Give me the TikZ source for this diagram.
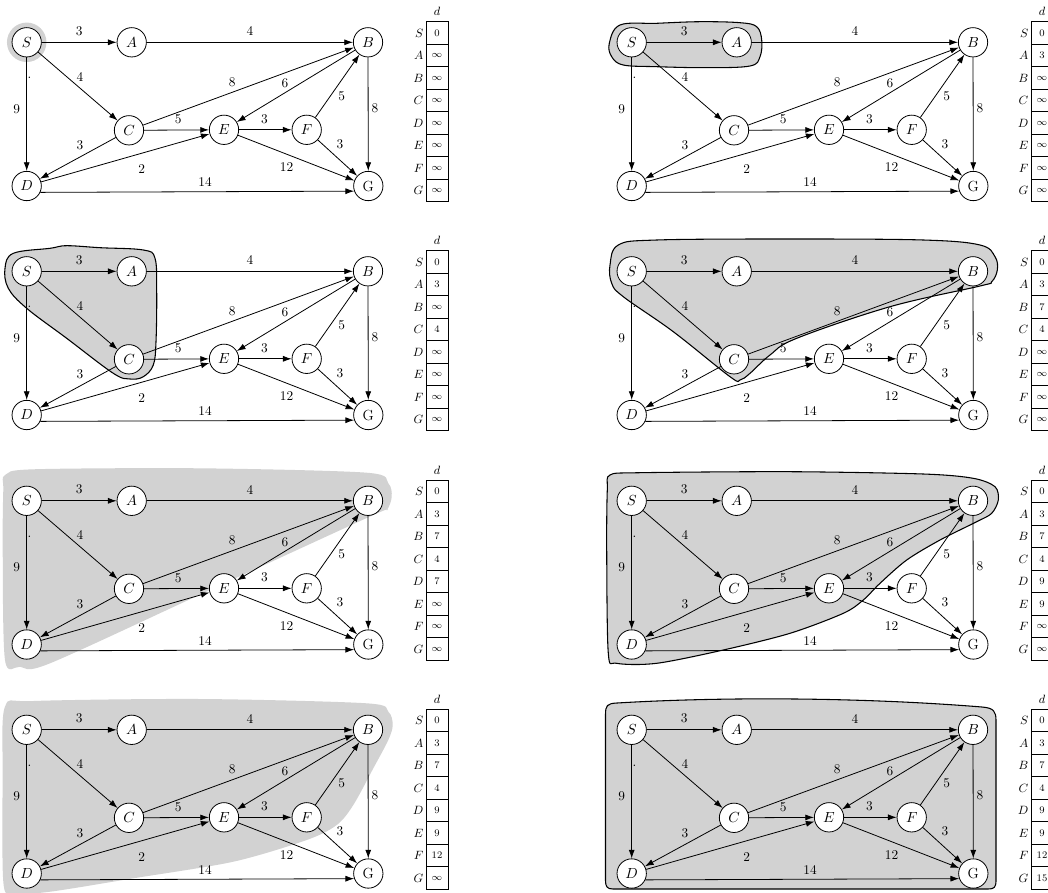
\documentclass[tikz,border=0pt]{standalone}
\usetikzlibrary{arrows.meta}
\tikzset{
  vtx/.style={circle, draw, fill=white, minimum size=22pt, inner sep=0pt, line width=0.6pt, font=\fontsize{11}{13}\selectfont},
  warrow/.style={-{Latex[length=6.5pt,width=4.5pt]}, line width=0.6pt},
  lbl/.style={inner sep=0pt, font=\fontsize{10}{12}\selectfont},
  cell/.style={draw, fill=white, minimum width=16.5pt, minimum height=16.9pt, inner sep=0pt, line width=0.6pt, font=\fontsize{7.5}{9}\selectfont},
  tlab/.style={anchor=east, inner sep=1.5pt, font=\fontsize{9}{11}\selectfont},
  hlfill/.style={fill=gray!35},
  hlline/.style={fill=gray!35, draw=black, line width=0.8pt},
}
\newcommand{\drawgraph}{%
  \node[vtx] (S) at (26.7,42.3) {$S$};
  \node[vtx] (A) at (131.7,42.3) {$A$};
  \node[vtx] (B) at (368,42.3) {$B$};
  \node[vtx] (C) at (129,130.3) {$C$};
  \node[vtx] (E) at (224,129.8) {$E$};
  \node[vtx] (F) at (306.7,129.8) {$F$};
  \node[vtx] (D) at (26.7,186) {$D$};
  \node[vtx] (G) at (368.3,186) {G};
  \draw[warrow] (S) -- node[lbl, shift={(0,-11.3)}] (lSA) {3} (A);
  \draw[warrow] (A) -- node[lbl, shift={(0,-11.2)}] (lAB) {4} (B);
  \draw[warrow] (S) -- node[lbl, shift={(2.2,-9.5)}] (lSC) {4} (C);
  \draw[warrow] (S) -- node[lbl, shift={(-10,-5.4)}] (lSD) {9} node[lbl, pos=0.18, shift={(2.8,0)}] (dot) {.} (D);
  \draw[warrow] (C) -- node[lbl, shift={(-16.2,-4.3)}] (lCB) {8} (B);
  \draw[warrow] (B) -- node[lbl, shift={(-11,-2.4)}] (lBE) {6} (E);
  \draw[warrow] (F) -- node[lbl, shift={(4.4,10)}] (lFB) {5} (B);
  \draw[warrow] (B) -- node[lbl, shift={(6.9,-6.2)}] (lBG) {8} (G);
  \draw[warrow] (C) -- node[lbl, shift={(1.8,-10.7)}] (lCE) {5} (E);
  \draw[warrow] (E) -- node[lbl, shift={(-1,-11)}] (lEF) {3} (F);
  \draw[warrow] (F) -- node[lbl, shift={(2.5,-13.9)}] (lFG) {3} (G);
  \draw[warrow] (C) -- node[lbl, shift={(2.2,-12.5)}] (lCD) {3} (D);
  \draw[warrow] (D) -- node[lbl, shift={(16.4,11.2)}] (lDE) {2} (E);
  \draw[warrow] (E) -- node[lbl, shift={(-9.5,9.6)}] (lEG) {12} (G);
  \draw[warrow] (D.-25) -- node[lbl, shift={(7.8,-9.6)}] (lDG) {14} (G.-160);
}
\newcommand{\dtable}[8]{%
  \node[inner sep=0pt, font=\fontsize{9}{11}\selectfont] (td) at (437,11.7) {$d$};
  \node[cell] (tS) at (437,33.05) {#1};
  \node[cell] (tA) at (437,55.55) {#2};
  \node[cell] (tB) at (437,78.05) {#3};
  \node[cell] (tC) at (437,100.55) {#4};
  \node[cell] (tD) at (437,123.05) {#5};
  \node[cell] (tE) at (437,145.55) {#6};
  \node[cell] (tF) at (437,168.05) {#7};
  \node[cell] (tG) at (437,190.55) {#8};
  \node[tlab] (nS) at (tS.west) {$S$};
  \node[tlab] (nA) at (tA.west) {$A$};
  \node[tlab] (nB) at (tB.west) {$B$};
  \node[tlab] (nC) at (tC.west) {$C$};
  \node[tlab] (nD) at (tD.west) {$D$};
  \node[tlab] (nE) at (tE.west) {$E$};
  \node[tlab] (nF) at (tF.west) {$F$};
  \node[tlab] (nG) at (tG.west) {$G$};
}
\newcommand{\inft}{$\infty$}
\begin{document}
\begin{tikzpicture}[x=0.75pt, y=-0.75pt]
\useasboundingbox (0,0) rectangle (1048,892);
\clip (0,0) rectangle (1048,892);
\fill[white] (0,0) rectangle (1048,892);
% panel 1
\begin{scope}[name prefix=p1-]
  \fill[hlfill] (26.7,42.3) circle[radius=14.8pt];
  \drawgraph
  \dtable{0}{\inft}{\inft}{\inft}{\inft}{\inft}{\inft}{\inft}
\end{scope}
% panel 2
\begin{scope}[shift={(605,0)}, name prefix=p2-]
  \draw[hlline] plot[smooth cycle, tension=0.6] coordinates {(4.3,43.3) (15,25) (51.7,23.3) (95,21.7) (135,22.7) (151.7,26.7) (156.7,40) (155,56.7) (145,66) (101.7,67.7) (51.7,66.7) (18.3,65) (6.7,56.7)};
  \drawgraph
  \dtable{0}{3}{\inft}{\inft}{\inft}{\inft}{\inft}{\inft}
\end{scope}
% panel 3
\begin{scope}[shift={(0,229)}, name prefix=p3-]
  \draw[hlline] plot[smooth cycle, tension=0.6] coordinates {(5,39.3) (13.3,24.3) (50,19.3) (66.7,16.7) (100,18.7) (143.3,21) (155,29.3) (156.7,62.7) (156,112.7) (153.3,136) (143.3,147.7) (130,150) (113.3,144.3) (66.7,109.3) (26.7,79.3) (8.3,59.3)};
  \drawgraph
  \dtable{0}{3}{\inft}{4}{\inft}{\inft}{\inft}{\inft}
\end{scope}
% panel 4
\begin{scope}[shift={(605,229)}, name prefix=p4-]
  \draw[hlline] plot[smooth cycle, tension=0.6] coordinates {(5,36) (13.3,16) (51.7,11) (185,10) (318.3,11) (375,16) (390,27.7) (392.3,41) (386.7,52.7) (375,57) (285,77.7) (191.7,109.3) (165,126) (145,144.3) (135,151) (125,147.7) (68.3,102.7) (18.3,67.7) (6.7,54.3)};
  \drawgraph
  \dtable{0}{3}{7}{4}{\inft}{\inft}{\inft}{\inft}
\end{scope}
% panel 5
\begin{scope}[shift={(0,458.5)}, name prefix=p5-]
  \fill[hlfill] plot[smooth cycle, tension=0.5] coordinates {(5,16.5) (33.3,10.8) (200,9.8) (366.7,14.2) (388.3,24.8) (391.7,38.2) (386.7,51.5) (373.3,56.5) (211.7,130.7) (50,204.8) (20,208.2) (5,201.5) (2.7,91.5) (3.3,31.5)};
  \drawgraph
  \dtable{0}{3}{7}{4}{7}{\inft}{\inft}{\inft}
\end{scope}
% panel 6
\begin{scope}[shift={(605,458.5)}, name prefix=p6-]
  \draw[hlline] plot[smooth cycle, tension=0.5] coordinates {(5,16.5) (35,14.2) (185,13.2) (318.3,15.5) (368.3,19.8) (390,28.2) (393.3,41.5) (386.7,54.8) (371.7,63.2) (335,81.5) (301.7,101.5) (275,124.8) (258.3,141.5) (238.3,154.8) (185,174.8) (118.3,191.5) (51.7,204.8) (11.7,204.8) (3.3,194.8) (1.7,91.5) (2.3,31.5)};
  \drawgraph
  \dtable{0}{3}{7}{4}{9}{9}{\inft}{\inft}
\end{scope}
% panel 7
\begin{scope}[shift={(0,687.5)}, name prefix=p7-]
  \fill[hlfill] plot[smooth cycle, tension=0.5] coordinates {(5,19.2) (33.3,13.5) (200,11.5) (366.7,15.8) (388.3,24.2) (392.7,37.5) (388.3,52.5) (373.3,80.8) (353.3,117.5) (336.7,137.5) (306.7,152.5) (233.3,174.2) (133.3,190.8) (50,204.2) (13.3,205.8) (3.3,194.2) (2.7,87.5)};
  \drawgraph
  \dtable{0}{3}{7}{4}{9}{9}{12}{\inft}
\end{scope}
% panel 8
\begin{scope}[shift={(605,687.5)}, name prefix=p8-]
  \draw[hlline] (0.5,27) .. controls (0.5,18) and (2,16) .. (12,15.5)
     .. controls (120,9) and (260,10) .. (377,19.5)
     .. controls (389,20.5) and (391,24) .. (391,33)
     -- (391,193) .. controls (391,200) and (389,201.5) .. (383,201.5)
     -- (8,201.5) .. controls (2,201.5) and (0.5,199) .. (0.5,193) -- cycle;
  \drawgraph
  \dtable{0}{3}{7}{4}{9}{9}{12}{15}
\end{scope}
\end{tikzpicture}
\end{document}
